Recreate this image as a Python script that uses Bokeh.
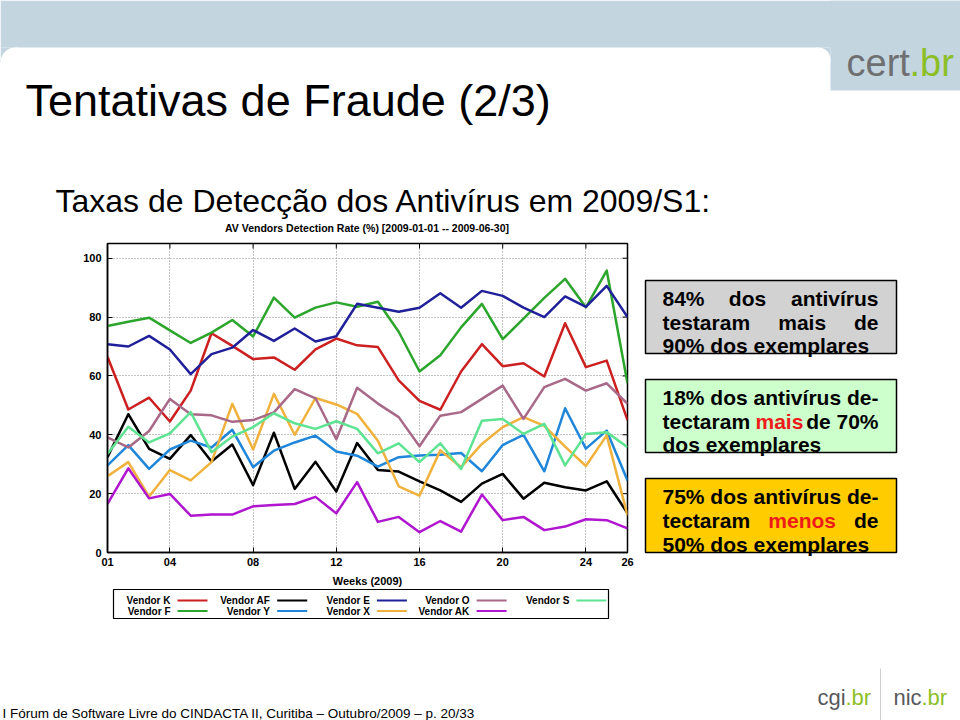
import math
from bokeh.plotting import figure
from bokeh.models import Range1d, FixedTicker
from bokeh.layouts import column, row
from bokeh.core.properties import value
from bokeh.embed import file_html
from bokeh.resources import INLINE

# ---------------- data ----------------
weeks = list(range(1, 27))
week_ticks = [1, 4, 8, 12, 16, 20, 24, 26]
week_tick_labels = ["01", "04", "08", "12", "16", "20", "24", "26"]
rate_ticks = [0, 20, 40, 60, 80, 100]
X_MIN, X_MAX = 1, 26
Y_MIN, Y_MAX = 0, 105

vendors = ["Vendor K", "Vendor F", "Vendor AF", "Vendor Y", "Vendor E",
           "Vendor X", "Vendor O", "Vendor AK", "Vendor S"]
colors = ["#cc1f1f", "#2ba52b", "#000000", "#1f86d9", "#20209a",
          "#f0b23c", "#a86888", "#b015d0", "#5ee392"]

vendor_k = [66.5, 48.6, 52.6, 44.5, 55.0, 74.5, 70.2, 65.7, 66.3, 62.1, 69.0, 72.7, 70.4,
            69.8, 58.5, 51.5, 48.5, 61.5, 70.8, 63.3, 64.3, 59.8, 77.9, 63.0, 65.2, 45.0]
vendor_f = [77.0, 78.4, 79.8, 75.5, 71.2, 74.7, 79.0, 73.4, 86.6, 79.8, 83.2, 85.0, 83.5,
            85.2, 75.0, 61.5, 67.0, 76.5, 84.5, 72.5, 79.5, 86.5, 93.0, 83.3, 95.8, 57.5]
vendor_af = [32.4, 47.0, 35.2, 31.8, 39.9, 30.9, 36.7, 22.9, 40.7, 21.6, 30.8, 20.7, 37.2,
             28.0, 27.5, 24.2, 21.1, 17.2, 23.4, 26.7, 18.3, 23.7, 22.2, 21.1, 24.2, 13.3]
vendor_y = [29.6, 36.5, 28.4, 35.0, 38.0, 35.7, 41.7, 29.0, 34.6, 37.4, 39.7, 34.3, 32.9,
            29.2, 32.4, 33.0, 33.2, 33.8, 27.6, 36.5, 40.0, 27.6, 49.0, 35.3, 41.4, 24.5]
vendor_e = [70.8, 70.0, 73.6, 69.0, 60.6, 67.4, 69.6, 75.6, 71.9, 76.1, 71.7, 73.5, 84.5,
            83.2, 81.8, 83.2, 88.1, 83.2, 88.9, 87.2, 83.2, 80.0, 87.0, 83.5, 90.6, 80.0]
vendor_x = [25.9, 30.7, 19.0, 28.0, 24.5, 30.7, 50.5, 35.0, 53.9, 40.0, 52.5, 50.3, 47.1,
            38.0, 22.5, 19.3, 34.7, 29.0, 36.9, 42.6, 46.0, 43.0, 36.0, 29.4, 39.8, 12.6]
vendor_o = [39.1, 35.7, 41.3, 52.2, 47.0, 46.6, 44.4, 45.0, 47.6, 55.5, 52.4, 38.5, 56.0,
            50.6, 46.0, 36.1, 46.5, 47.7, 52.2, 56.7, 45.4, 56.2, 59.0, 55.0, 57.5, 50.5]
vendor_ak = [16.5, 28.6, 18.4, 19.9, 12.5, 12.9, 12.9, 15.7, 16.1, 16.5, 18.9, 13.3, 23.9,
             10.4, 12.1, 6.9, 10.7, 7.1, 19.7, 11.0, 12.1, 7.6, 8.8, 11.3, 11.0, 8.2]
vendor_s = [33.5, 42.7, 37.4, 40.5, 47.7, 34.1, 39.4, 42.6, 47.3, 43.9, 42.0, 44.6, 42.0,
            33.7, 37.1, 30.7, 37.1, 28.4, 44.8, 45.4, 40.3, 43.7, 29.6, 40.3, 40.9, 35.8]

series = [vendor_k, vendor_f, vendor_af, vendor_y, vendor_e,
          vendor_x, vendor_o, vendor_ak, vendor_s]

# texts
slide_title = "Tentativas de Fraude (2/3)"
slide_subtitle = "Taxas de Detecção dos Antivírus em 2009/S1:"
chart_title = "AV Vendors Detection Rate (%)  [2009-01-01 -- 2009-06-30]"
x_label = "Weeks (2009)"
footer_text = "I Fórum de Software Livre do CINDACTA II, Curitiba – Outubro/2009 – p. 20/33"

SANS = "Liberation Sans, Arial, sans-serif"
BAND = "#c3d5df"

CHART_W, CHART_H = 640, 336
BORDER_L, BORDER_R, BORDER_T, BORDER_B = 107, 13, 7, 20


def deco_fig(w, h, x0, x1, y0, y1, bl=0, br=0):
    p = figure(width=w, height=h, x_range=Range1d(x0, x1), y_range=Range1d(y1, y0),
               output_backend="svg", toolbar_location=None,
               x_axis_location=None, y_axis_location=None, min_border=0,
               min_border_left=bl, min_border_right=br,
               outline_line_color=None, background_fill_color="white",
               border_fill_color="white")
    p.xgrid.visible = False
    p.ygrid.visible = False
    return p


def txt(p, x, y, s, font=SANS, size="12px", color="black", align="left",
        baseline="alphabetic", style="normal"):
    p.text(x=[x], y=[y], text=[s], text_font=value(font), text_font_size=size,
           text_color=color, text_align=align, text_baseline=baseline,
           text_font_style=style)


# ---------------- header ----------------
hdr = deco_fig(960, 236, 0, 960, 0, 236)
hdr.quad(left=[0, 830, 0, 818], right=[960, 960, 15, 830], top=[0, 0, 47, 47],
         bottom=[47, 90, 62, 59], fill_color=BAND, line_color=None)
hdr.circle(x=[15, 818], y=[62, 59], radius=[15, 12], fill_color="white", line_color=None)
txt(hdr, 846, 62, "cert", size="38px", color="#6e6f71")
txt(hdr, 909, 62, ".br", size="38px", color="#8cbf26")
txt(hdr, 25, 100, slide_title, size="45px")
txt(hdr, 55, 200, slide_subtitle, size="32px")
txt(hdr, 368, 227, chart_title, size="10.5px", style="bold", baseline="middle",
    align="center")

# ---------------- chart ----------------
p = figure(width=CHART_W, height=CHART_H, x_range=Range1d(X_MIN, X_MAX),
           y_range=Range1d(Y_MIN, Y_MAX),
           output_backend="svg", toolbar_location=None,
           min_border_left=BORDER_L, min_border_right=BORDER_R,
           min_border_top=BORDER_T, min_border_bottom=BORDER_B,
           outline_line_color="black", outline_line_width=1.5,
           background_fill_color="white", border_fill_color="white")

xt = FixedTicker(ticks=week_ticks)
yt = FixedTicker(ticks=rate_ticks)
p.xaxis.ticker = xt
p.yaxis.ticker = yt
p.xaxis.major_label_overrides = dict(zip(week_ticks, week_tick_labels))
for ax in [p.xaxis[0], p.yaxis[0]]:
    ax.major_tick_in = 5
    ax.major_tick_out = 0
    ax.minor_tick_in = 0
    ax.minor_tick_out = 0
    ax.axis_line_color = "black"
    ax.axis_line_width = 1.5
    ax.major_label_text_font = SANS
    ax.major_label_text_font_style = "bold"
    ax.major_label_text_font_size = "11px"
    ax.major_label_text_color = "black"
p.xaxis.major_label_standoff = 5
p.yaxis.major_label_standoff = 6

p.xgrid.ticker = xt
p.ygrid.ticker = yt
for g in [p.xgrid[0], p.ygrid[0]]:
    g.grid_line_color = "#8a8a8a"
    g.grid_line_dash = "1 2"
    g.grid_line_width = 1

# mirrored tick marks on the top and right frame edges (gnuplot style)
p.ray(x=week_ticks, y=[Y_MAX] * len(week_ticks), length=5, length_units="screen",
      angle=-math.pi / 2, line_color="black", line_width=1)
p.ray(x=[X_MAX] * len(rate_ticks), y=rate_ticks, length=5, length_units="screen",
      angle=math.pi, line_color="black", line_width=1)

for name, vals, col in zip(vendors, series, colors):
    p.line(weeks, vals, line_color=col, line_width=2.5, line_join="round")

# ---------------- legend strip (frame aligned with the chart's frame) ----------------
leg = deco_fig(CHART_W, 58, BORDER_L, CHART_W - BORDER_R, 572, 630,
               bl=BORDER_L, br=BORDER_R)
txt(leg, 367, 580, x_label, size="11px", style="bold", align="center", baseline="middle")
leg.quad(left=[113], right=[608], top=[589], bottom=[618], fill_color="white",
         line_color="black", line_width=1.2)
lx, ly, lc, lname = [], [], [], []
for i, (name, col) in enumerate(zip(vendors, colors)):
    c, r = i // 2, i % 2
    lx.append(170 + c * 99.7)
    ly.append(600 + r * 10.5)
    lc.append(col)
    lname.append(name)
leg.text(x=lx, y=ly, text=lname, text_font=value(SANS), text_font_size="10px",
         text_font_style="bold", text_align="right", text_baseline="middle")
leg.segment(x0=[x + 7 for x in lx], x1=[x + 37 for x in lx], y0=ly, y1=ly,
            line_color=lc, line_width=2)

# ---------------- right panel ----------------
rp = deco_fig(320, 394, 640, 960, 236, 630)
rp.quad(left=[645, 645, 645], right=[896, 896, 896], top=[280, 379, 478],
        bottom=[353, 452, 552], fill_color=["#d2d2d2", "#ccffcc", "#ffcc00"],
        line_color="black", line_width=1.5)
B = dict(size="21px", style="bold")
RED = "#ee1a1a"
# box 1
txt(rp, 662, 297.5, "84%", **B)
txt(rp, 747, 297.5, "dos", align="center", **B)
txt(rp, 878, 297.5, "antivírus", align="right", **B)
txt(rp, 662, 321.5, "testaram", **B)
txt(rp, 801.7, 321.5, "mais", align="center", **B)
txt(rp, 878, 321.5, "de", align="right", **B)
txt(rp, 662, 344.5, "90% dos exemplares", **B)
# box 2
txt(rp, 662, 396.5, "18% dos antivírus de-", **B)
txt(rp, 662, 420.5, "tectaram", **B)
txt(rp, 755, 420.5, "mais", color=RED, **B)
txt(rp, 878, 420.5, "de 70%", align="right", **B)
txt(rp, 662, 444, "dos exemplares", **B)
# box 3
txt(rp, 662, 496, "75% dos antivírus de-", **B)
txt(rp, 662, 520, "tectaram", **B)
txt(rp, 801.7, 520, "menos", color=RED, align="center", **B)
txt(rp, 878, 520, "de", align="right", **B)
txt(rp, 662, 543.5, "50% dos exemplares", **B)

# ---------------- footer ----------------
ft = deco_fig(960, 90, 0, 960, 630, 720)
txt(ft, 2, 713, footer_text, size="13.5px")
txt(ft, 817, 697, "cgi", size="22px", color="#58595b")
txt(ft, 845, 697, ".br", size="22px", color="#8cbf26")
ft.segment(x0=[880], x1=[880], y0=[668], y1=[720], line_color="#cfcfcf", line_width=1)
txt(ft, 893, 697, "nic", size="22px", color="#58595b")
txt(ft, 921, 697, ".br", size="22px", color="#8cbf26")

layout = column(hdr, row(column(p, leg), rp), ft)
open("out.html", "w").write(file_html(layout, INLINE))
